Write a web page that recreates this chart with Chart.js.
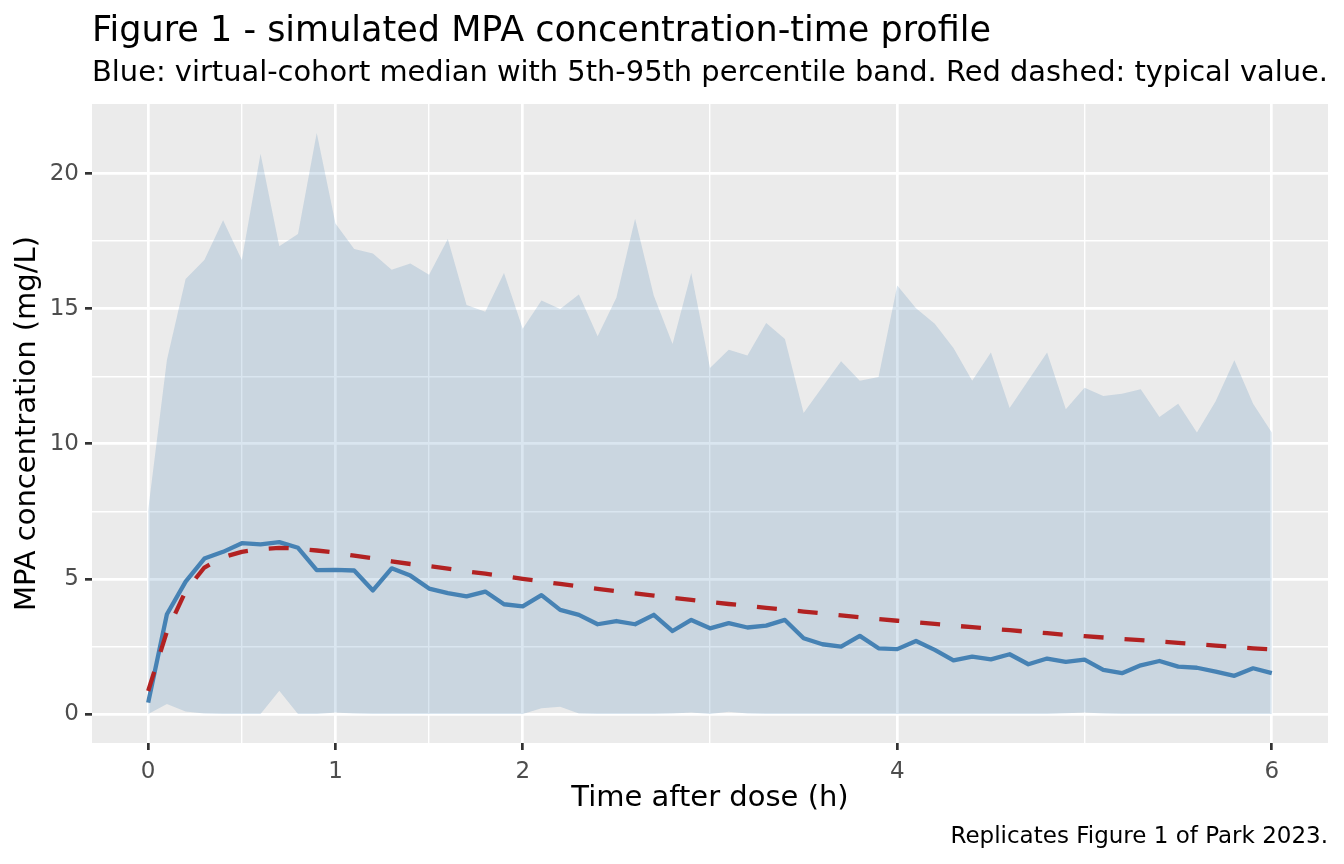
<!DOCTYPE html>
<html><head><meta charset="utf-8">
<script src="https://cdn.jsdelivr.net/npm/chart.js@4.4.1/dist/chart.umd.min.js"></script>
<style>html,body{margin:0;padding:0;background:#fff;} canvas{display:block;}</style>
</head><body>
<canvas id="c" width="1344" height="864" style="width:1344px;height:864px"></canvas>
<script>
const timeH = [0.0,0.1,0.2,0.3,0.4,0.5,0.6,0.7,0.8,0.9,1.0,1.1,1.2,1.3,1.4,1.5,1.6,1.7,1.8,1.9,2.0,2.1,2.2,2.3,2.4,2.5,2.6,2.7,2.8,2.9,3.0,3.1,3.2,3.3,3.4,3.5,3.6,3.7,3.8,3.9,4.0,4.1,4.2,4.3,4.4,4.5,4.6,4.7,4.8,4.9,5.0,5.1,5.2,5.3,5.4,5.5,5.6,5.7,5.8,5.9,6.0];
const p05 = [0.0,0.37,0.09,0.02,0.0,0.0,0.0,0.86,0.0,0.0,0.05,0.02,0.0,0.0,0.0,0.0,0.0,0.0,0.0,0.0,0.0,0.21,0.27,0.02,0.0,0.0,0.0,0.0,0.02,0.05,0.0,0.08,0.02,0.0,0.0,0.0,0.0,0.0,0.0,0.0,0.0,0.0,0.0,0.0,0.0,0.0,0.0,0.0,0.0,0.03,0.05,0.02,0.0,0.0,0.0,0.0,0.0,0.0,0.0,0.0,0.0];
const p95 = [7.55,13.1,16.1,16.8,18.27,16.8,20.73,17.31,17.76,21.5,18.15,17.21,17.04,16.44,16.67,16.26,17.58,15.14,14.89,16.32,14.26,15.30,14.99,15.52,13.98,15.40,18.33,15.48,13.69,16.32,12.80,13.48,13.27,14.47,13.88,11.14,12.10,13.05,12.33,12.47,15.86,15.02,14.44,13.54,12.33,13.38,11.32,12.35,13.38,11.28,12.07,11.77,11.85,12.02,10.99,11.48,10.42,11.57,13.09,11.48,10.42];
const median = [0.42,3.69,4.90,5.75,6.0,6.32,6.28,6.36,6.15,5.32,5.33,5.31,4.57,5.39,5.12,4.64,4.47,4.35,4.53,4.06,3.98,4.40,3.85,3.67,3.32,3.44,3.32,3.67,3.07,3.48,3.17,3.36,3.20,3.27,3.48,2.80,2.58,2.49,2.89,2.43,2.40,2.70,2.37,1.98,2.12,2.02,2.21,1.84,2.05,1.93,2.01,1.63,1.51,1.80,1.96,1.75,1.71,1.57,1.41,1.69,1.51];
const typical = [0.85,3.05,4.55,5.42,5.8,6.0,6.1,6.15,6.12,6.05,5.97,5.86,5.76,5.65,5.55,5.47,5.38,5.28,5.19,5.10,5.00,4.91,4.81,4.72,4.63,4.54,4.46,4.38,4.30,4.22,4.14,4.07,4.00,3.93,3.86,3.79,3.72,3.65,3.58,3.51,3.45,3.39,3.33,3.27,3.21,3.15,3.10,3.04,2.99,2.93,2.88,2.83,2.78,2.73,2.68,2.63,2.58,2.53,2.48,2.43,2.39];
const xMajorTicks = [0,1,2,4,6];
const xMinorTicks = [0.5,1.5,3,5];
const yMajorTicks = [0,5,10,15,20];
const yMinorTicks = [2.5,7.5,12.5,17.5];
const titleText = 'Figure 1 - simulated MPA concentration-time profile';
const subtitleText = 'Blue: virtual-cohort median with 5th-95th percentile band. Red dashed: typical value.';
const xTitleText = 'Time after dose (h)';
const yTitleText = 'MPA concentration (mg/L)';
const captionText = 'Replicates Figure 1 of Park 2023.';

const FONT = "'DejaVu Sans', sans-serif";
const toPts = (ys) => timeH.map((t, i) => ({x: t, y: ys[i]}));
const mkTicks = (maj, min) => maj.concat(min).sort((a, b) => a - b).map(v => ({value: v}));

const panelBg = {
  id: 'panelBg',
  beforeDraw(chart) {
    const {ctx, chartArea: a} = chart;
    ctx.save();
    ctx.fillStyle = '#ffffff';
    ctx.fillRect(0, 0, chart.width, chart.height);
    ctx.fillStyle = '#EBEBEB';
    ctx.fillRect(a.left, a.top, a.right - a.left, a.bottom - a.top);
    ctx.restore();
  }
};
const captionPlugin = {
  id: 'caption',
  afterDraw(chart, args, opts) {
    const ctx = chart.ctx;
    ctx.save();
    ctx.font = '23px ' + FONT;
    ctx.fillStyle = '#000000';
    ctx.textAlign = 'right';
    ctx.textBaseline = 'alphabetic';
    ctx.fillText(opts.text, chart.chartArea.right, chart.height - 21);
    ctx.restore();
  }
};

function gridOpts(major) {
  return {
    color: '#ffffff',
    lineWidth: c => (c.tick && major.includes(c.tick.value)) ? 2.7 : 1.4,
    drawTicks: true,
    tickLength: 7,
    tickWidth: 2.7,
    tickColor: c => (c.tick && major.includes(c.tick.value)) ? '#333333' : 'rgba(0,0,0,0)'
  };
}

new Chart(document.getElementById('c'), {
  type: 'line',
  data: {
    datasets: [
      {label: 'Typical value', data: toPts(typical), borderColor: '#B22222', borderWidth: 4.3, borderDash: [20, 21], borderCapStyle: 'butt', borderJoinStyle: 'round', pointRadius: 0, fill: false},
      {label: 'Median', data: toPts(median), borderColor: '#4682B4', borderWidth: 4.3, borderCapStyle: 'butt', borderJoinStyle: 'round', pointRadius: 0, fill: false},
      {label: '95th percentile', data: toPts(p95), borderWidth: 0, borderColor: 'rgba(0,0,0,0)', backgroundColor: 'rgba(70,130,180,0.2)', pointRadius: 0, fill: '+1'},
      {label: '5th percentile', data: toPts(p05), borderWidth: 0, borderColor: 'rgba(0,0,0,0)', pointRadius: 0, fill: false}
    ]
  },
  options: {
    responsive: false,
    devicePixelRatio: 1,
    animation: false,
    events: [],
    layout: {padding: {left: 0, right: 16, top: 0, bottom: 44}},
    plugins: {
      legend: {display: false},
      tooltip: {enabled: false},
      title: {display: true, text: titleText, align: 'start', fullSize: false, color: '#000000',
        font: {family: FONT, size: 35, weight: 'normal', lineHeight: 1.2}, padding: {top: 11, bottom: 0}},
      subtitle: {display: true, text: subtitleText, align: 'start', fullSize: false, color: '#000000',
        font: {family: FONT, size: 29, weight: 'normal', lineHeight: 1.2}, padding: {top: 3, bottom: 13.2}},
      caption: {text: captionText}
    },
    scales: {
      x: {
        type: 'linear', position: 'bottom', min: -0.3, max: 6.3,
        afterBuildTicks: s => { s.ticks = mkTicks(xMajorTicks, xMinorTicks); },
        afterFit: s => { s.height = 77; },
        grid: gridOpts(xMajorTicks),
        border: {display: false},
        ticks: {autoSkip: false, maxRotation: 0, padding: 8, color: '#4D4D4D', font: {family: FONT, size: 23},
          callback: v => xMajorTicks.includes(v) ? String(v) : ''},
        title: {display: true, text: xTitleText, color: '#000000', font: {family: FONT, size: 29, lineHeight: 1.2}, padding: {top: 0, bottom: 4.6}}
      },
      y: {
        type: 'linear', position: 'left', min: -1.075, max: 22.575,
        afterBuildTicks: s => { s.ticks = mkTicks(yMajorTicks, yMinorTicks); },
        afterFit: s => { s.width = 92; },
        grid: gridOpts(yMajorTicks),
        border: {display: false},
        ticks: {autoSkip: false, padding: 6, color: '#4D4D4D', font: {family: FONT, size: 23},
          callback: v => yMajorTicks.includes(v) ? String(v) : ''},
        title: {display: true, text: yTitleText, color: '#000000', font: {family: FONT, size: 29, lineHeight: 1.2}, padding: {top: 10, bottom: 0}}
      }
    }
  },
  plugins: [panelBg, captionPlugin]
});
</script>
</body></html>
